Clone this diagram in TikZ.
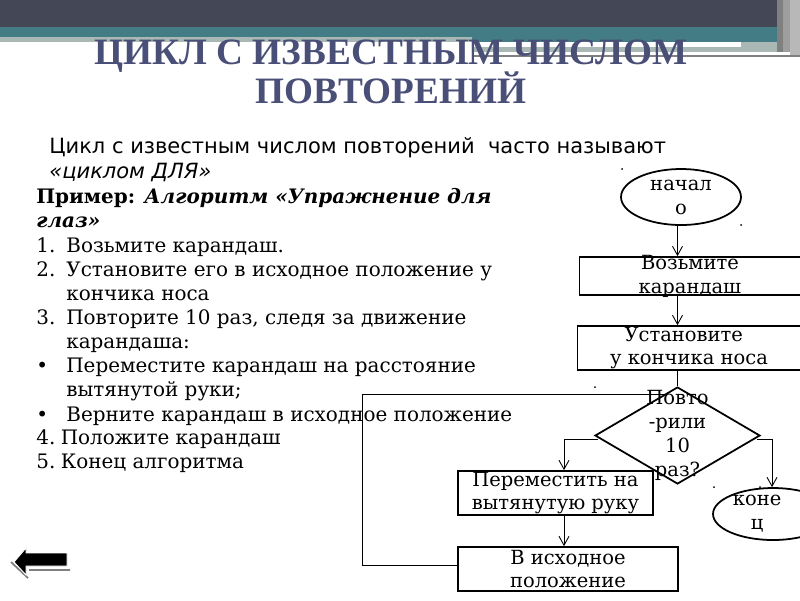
\documentclass[tikz,border=0pt]{standalone}
\usepackage{fontspec}
\setmainfont{DejaVu Serif}
\setsansfont{DejaVu Sans}
\newfontfamily\titlefont{Liberation Serif}
\usetikzlibrary{arrows.meta,shapes.geometric}
\definecolor{bandcolor}{HTML}{434756}
\definecolor{tealcolor}{HTML}{437C84}
\definecolor{palecolor}{HTML}{A9B8B4}
\definecolor{titlecolor}{HTML}{4A4F78}

\begin{document}
\begin{tikzpicture}[
        x=0.02cm, y=-0.02cm,
        flowbox/.style={draw, line width=1pt, inner xsep=0pt, inner ysep=-7pt, align=center, font=\fontsize{11.1}{13.6}\selectfont, execute at begin node={\rule{0pt}{10.5pt}}},
        flowoval/.style={flowbox, ellipse},
        flowdiamond/.style={flowbox, diamond, aspect=1.72, inner xsep=-12pt, inner ysep=-24pt},
        flowline/.style={draw, line width=0.5pt, -{Straight Barb[length=1.8mm,width=2mm]}},
        plainline/.style={draw, line width=0.5pt},
        bodytext/.style={anchor=base west, inner sep=0pt, font=\fontsize{11.35}{13.6}\selectfont},
        introtext/.style={anchor=base west, inner sep=0pt, font=\sffamily\fontsize{11.95}{13.6}\selectfont},
        titletext/.style={anchor=base, inner sep=0pt, text=titlecolor, font=\titlefont\bfseries\fontsize{21.2}{25}\selectfont}
    ]
        \useasboundingbox (0,0) rectangle (800,600);
        \fill[white] (0,0) rectangle (800,600);

        % header bands
        \fill[bandcolor] (0,0) rectangle (777,27);
        \fill[tealcolor] (0,27) rectangle (777,37);
        \fill[palecolor] (0,37) rectangle (472,42);
        \fill[tealcolor] (472,37) rectangle (777,42);
        \fill[white] (472,43) rectangle (741,47);
        \fill[palecolor] (472,47) rectangle (777,52);
        \fill[palecolor] (741,42) rectangle (777,47);
        \fill[white] (472,52) rectangle (785,55);
        \fill[gray] (472,55) rectangle (800,57);
        \fill[black!50] (777,0) rectangle (783,52);
        \fill[black!38] (783,0) rectangle (790,52);
        \fill[black!28] (790,0) rectangle (800,55);

        \node[titletext] (titleone) at (391,64) {ЦИКЛ С ИЗВЕСТНЫМ ЧИСЛОМ};
        \node[titletext] (titletwo) at (391,103) {ПОВТОРЕНИЙ};

        % text on the left
        \node[introtext] (introone) at (49,153) {Цикл с известным числом повторений\ \ часто называют};
        \node[introtext] (introtwo) at (49,178) {\itshape «циклом ДЛЯ»};
        \node[bodytext] (exampleone) at (36,203) {\textbf{Пример: \textit{Алгоритм «Упражнение для}}};
        \node[bodytext] (exampletwo) at (36,227) {\textbf{\textit{глаз»}}};
        \foreach \n/\m/\y/\t in {a/1./252/{Возьмите карандаш.},
                b/2./276/{Установите его в исходное положение у},
                c//300/{кончика носа},
                d/3./324/{Повторите 10 раз, следя за движение},
                e//348/{карандаша:},
                f/•/372/{Переместите карандаш на расстояние},
                g//396/{вытянутой руки;},
                h/•/421/{Верните карандаш в исходное положение}} {
            \node[bodytext] (mark\n) at (36,\y) {\m};
            \node[bodytext] (line\n) at (66,\y) {\t};
        }
        \node[bodytext] (linei) at (36,444) {4.\hspace{-1.7pt} Положите карандаш};
        \node[bodytext] (linej) at (36,468) {5.\hspace{-1.7pt} Конец алгоритма};

        % flowchart
        \node[flowoval, minimum width=2.4cm, minimum height=1.12cm] (begin) at (681,197) {начал\\о};
        \node[flowbox, minimum width=4.42cm, minimum height=0.76cm] (take) at (690,276) {Возьмите\\карандаш};
        \node[flowbox, minimum width=4.46cm, minimum height=0.88cm] (setup) at (689,348) {Установите\hspace*{6pt}\\у кончика носа};
        \node[flowdiamond, minimum width=3.3cm, minimum height=1.94cm] (repeat) at (677.5,435.5) {Повто\\-рили\\10\\раз?};
        \node[flowbox, minimum width=3.9cm, minimum height=0.88cm] (move) at (555.5,493) {Переместить на\\вытянутую руку};
        \node[flowbox, minimum width=4.4cm, minimum height=0.88cm] (back) at (568,569) {В исходное\\положение};
        \node[flowoval, minimum width=2.4cm, minimum height=1.04cm] (finish) at (773,514) {коне\hspace*{18pt}\\ц\hspace*{18pt}};

        \coordinate (repwest) at (598,439);
        \coordinate (repeast) at (757,439);
        \coordinate (moveline) at (564,439);
        \coordinate (finishline) at (772,439);
        \coordinate (loopstart) at (458,565);
        \coordinate (loopleft) at (362,565);
        \coordinate (looptop) at (362,394);
        \coordinate (loopend) at (668,394);

        \draw[flowline] (begin.south -| repeat.north) -- (take.north -| repeat.north);
        \draw[flowline] (take.south -| repeat.north) -- (setup.north -| repeat.north);
        \draw[plainline] (setup.south -| repeat.north) -- (repeat.north);
        \draw[flowline] (repwest) -- (moveline) -- (move.north -| moveline);
        \draw[flowline] (repeast) -- (finishline) -- (finish.north -| finishline);
        \draw[flowline] (move.south -| moveline) -- (back.north -| moveline);
        \draw[plainline] (loopstart) -- (loopleft) -- (looptop) -- (loopend);

        % stray handle dots
        \foreach \x/\y in {622/169,741/225,595/387,714/487,760/487}
            \fill (\x,\y) circle (1);

        % back arrow
        \draw[gray, line width=1pt] (11,562) -- (28,578) (29,570) -- (70,570);
        \fill[black, draw=white, line width=0.5pt] (14,562) -- (26,548) -- (26,553) -- (67,553) -- (67,566) -- (26,566) -- (26,575) -- cycle;
    \end{tikzpicture}
\end{document}
